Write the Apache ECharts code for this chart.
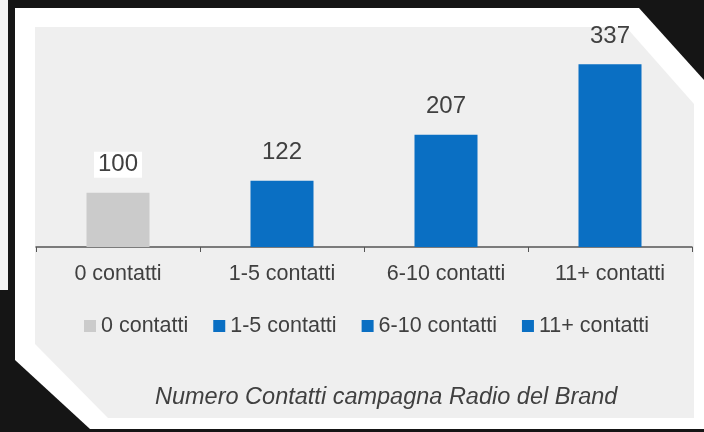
<!DOCTYPE html>
<html>
<head>
<meta charset="utf-8">
<script src="https://cdn.jsdelivr.net/npm/echarts@6/dist/echarts.min.js"></script>
<style>
  html, body { margin: 0; padding: 0; background: #151515; }
  #chart { width: 704px; height: 432px; }
</style>
</head>
<body>
<div id="chart"></div>
<script>
// Contact-frequency groups and their index values
const categories = ['0 contatti', '1-5 contatti', '6-10 contatti', '11+ contatti'];
const values = [100, 122, 207, 337];
const chartTitle = 'Numero Contatti campagna Radio del Brand';

const palette = ['#cbcbcb', '#0a6fc3', '#0a6fc3', '#0a6fc3'];
const textColor = '#404040';
const fontFamily = '"Liberation Sans", Arial, sans-serif';

const chart = echarts.init(document.getElementById('chart'));

// One series per group so each gets its own legend entry; bars overlap in their slot
const series = categories.map((name, i) => ({
  name: name,
  type: 'bar',
  barWidth: 63,
  barGap: '-100%',
  itemStyle: { color: palette[i] },
  label: {
    show: true,
    position: 'top',
    distance: 15,
    fontSize: 24,
    lineHeight: 24,
    color: textColor,
    fontFamily: fontFamily,
    padding: [1, 4, 1, 4],
    backgroundColor: i === 0 ? '#ffffff' : 'transparent'
  },
  data: values.map((v, j) => (j === i ? v : null))
}));

chart.setOption({
  backgroundColor: '#151515',
  animation: false,
  color: palette,
  graphic: [
    // white strip at the far left
    { type: 'rect', shape: { x: 0, y: 0, width: 8, height: 290 }, style: { fill: '#f2f2f2' }, z: -10 },
    // white frame with cut corners
    {
      type: 'polygon', z: -9,
      shape: { points: [[15, 8], [639, 8], [704, 80], [704, 429], [90, 429], [15, 360]] },
      style: { fill: '#ffffff' }
    },
    // light grey plate
    {
      type: 'polygon', z: -8,
      shape: { points: [[35, 27], [626, 27], [694, 104], [694, 418], [108, 418], [35, 344]] },
      style: { fill: '#efefef' }
    },
    {
      type: 'text', left: 155, top: 386,
      style: {
        text: chartTitle, fill: textColor,
        font: 'italic 23.5px ' + fontFamily
      }
    }
  ],
  grid: { left: 36, right: 12, top: 30, bottom: 185, containLabel: false },
  legend: {
    left: 79, top: 310,
    icon: 'rect', itemWidth: 12, itemHeight: 12, itemGap: 25,
    textStyle: { fontSize: 21.5, color: textColor, fontFamily: fontFamily },
    data: categories
  },
  xAxis: {
    type: 'category',
    data: categories,
    axisLine: { lineStyle: { color: '#555555', width: 1.5 } },
    axisTick: { show: true, length: 5, lineStyle: { color: '#555555' } },
    axisLabel: { fontSize: 21.5, color: textColor, fontFamily: fontFamily, margin: 16 }
  },
  yAxis: { type: 'value', min: 0, max: 400, show: false, splitLine: { show: false } },
  series: series
});
</script>
</body>
</html>
